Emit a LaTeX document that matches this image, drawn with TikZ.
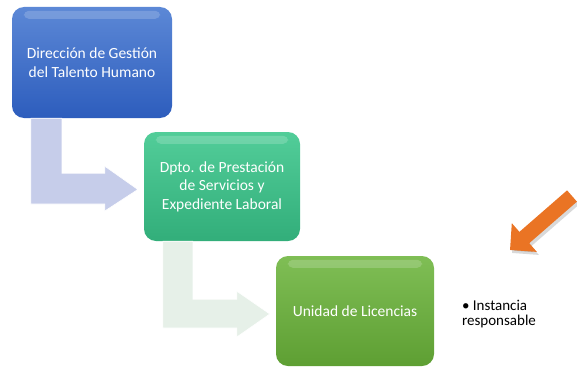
\documentclass[tikz,border=0pt]{standalone}
\usepackage{fontspec}
\setmainfont{Carlito}
\usetikzlibrary{calc, arrows.meta, positioning}

\definecolor{boxBlueTop}{HTML}{5C88D6}
\definecolor{boxBlueBot}{HTML}{2D5DBD}
\definecolor{boxTealTop}{HTML}{52CD99}
\definecolor{boxTealBot}{HTML}{32AE7A}
\definecolor{boxGreenTop}{HTML}{7FBE55}
\definecolor{boxGreenBot}{HTML}{5E9F33}
\definecolor{bentBlue}{HTML}{C6CDEA}
\definecolor{bentGreen}{HTML}{E6F0E8}
\definecolor{ptrOrange}{HTML}{EA7424}

\tikzset{
  box/.style={rounded corners=12pt, minimum width=158pt, minimum height=110pt,
    inner sep=0pt, text=white, align=center, font=\fontsize{15.5}{18.5}\selectfont},
  gloss/.style={fill=white, opacity=.18, rounded corners=5pt},
  bent/.style={line width=.6pt, line join=miter},
  ptr/.style={ptrOrange, line width=15pt, -{Triangle[length=19pt,width=37pt]}}
}

\begin{document}
\begin{tikzpicture}[x=1pt, y=-1pt]
    \useasboundingbox (0,0) rectangle (577,369);
    % the three boxes
    \node[box, minimum width=160pt, minimum height=111pt, top color=boxBlueTop, bottom color=boxBlueBot] (gestion) at (92,62.5) {Dirección de Gestión\\del Talento Humano};
    \node[box, minimum width=156pt, minimum height=109pt, top color=boxTealTop, bottom color=boxTealBot] (dpto) at (222,186.5) {Dpto. de Prestación\\de Servicios y\\Expediente Laboral};
    \node[box, top color=boxGreenTop, bottom color=boxGreenBot] (unidad) at (355,311) {Unidad de Licencias};
    \foreach \b in {gestion, dpto, unidad}
        \fill[gloss] ($(\b.north west)+(12,4)$) rectangle ($(\b.north east)+(-12,12)$);
    % bent arrows between the boxes
    \filldraw[bent, fill=bentBlue, draw=white] ($(gestion.south west)+(19,0)$) -- ++(31,0) -- ++(0,55) -- ++(43,0) -- ++(0,-7)
        -- ($(dpto.west)+(-6,3)$) -- ++(-33,21.5) -- ++(0,-7) -- ++(-74,0) -- cycle;
    \filldraw[bent, fill=bentGreen, draw=white] ($(dpto.south west)+(19,0)$) -- ++(30,0) -- ++(0,58) -- ++(44,0) -- ++(0,-8)
        -- ($(unidad.west)+(-6,3)$) -- ++(-33,23) -- ++(0,-9) -- ++(-74,0) -- cycle;
    % pointer and note
    \coordinate (ptrTail) at (572,196);
    \coordinate (ptrTip) at (510,250);
    \draw[ptr, black, opacity=.15] ($(ptrTail)+(2,3)$) -- ($(ptrTip)+(2,3)$);
    \draw[ptr] (ptrTail) -- (ptrTip);
    \node[align=left, font=\fontsize{15}{15}\selectfont] (note) at (499,314) {• Instancia\\responsable};
\end{tikzpicture}
\end{document}
